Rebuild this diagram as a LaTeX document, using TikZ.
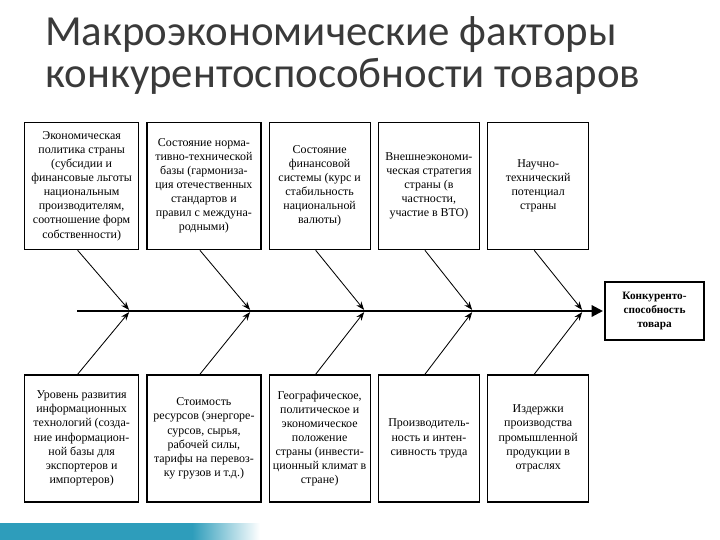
\documentclass[tikz,border=0pt]{standalone}
\usepackage{fontspec}
\setmainfont{Liberation Serif}
\newfontfamily\titlefont{Carlito}
\usetikzlibrary{arrows.meta,positioning,calc}
\definecolor{slideGrey}{HTML}{3A3A3A}
\definecolor{bandTeal}{HTML}{2E9DBB}

\begin{document}
\begin{tikzpicture}[
        node distance=3.1cm and 0.175cm,
        title/.style={anchor=north west, inner sep=0pt, align=left, text=slideGrey, font=\titlefont\fontsize{30.5}{30}\selectfont},
        factor/.style={draw=black, line width=0.9pt, minimum height=3.175cm, inner sep=1pt, align=center, font=\fontsize{8.5}{10}\selectfont},
        wide/.style={factor, minimum width=2.85cm},
        narrow/.style={factor, minimum width=2.525cm},
        goal/.style={draw=black, line width=0.9pt, minimum width=2.475cm, minimum height=1.45cm, align=center, font=\bfseries\fontsize{8}{10}\selectfont},
        arrow/.style={-{Stealth[length=6pt,width=4.5pt]}, line width=0.6pt, shorten >=1pt},
        spine/.style={-{Triangle[length=8pt,width=8pt]}, line width=1.6pt, shorten >=1pt}
    ]
        \useasboundingbox (0,0) rectangle (18,-13.5);

        \node[title] (title) at (1.125,-0.4) {Макроэкономические факторы\\конкурентоспособности товаров};

        % upper row
        \node[wide, anchor=north west] (t1) at (0.6,-3.05) {Экономическая\\политика страны\\(субсидии и\\финансовые льготы\\национальным\\производителям,\\соотношение форм\\собственности)};
        \node[wide, right=of t1] (t2) {Состояние норма-\\тивно-технической\\базы (гармониза-\\ция отечественных\\стандартов и\\правил с междуна-\\родными)};
        \node[narrow, right=of t2] (t3) {Состояние\\финансовой\\системы (курс и\\стабильность\\национальной\\валюты)};
        \node[narrow, right=of t3] (t4) {Внешнеэкономи-\\ческая стратегия\\страны (в\\частности,\\участие в ВТО)};
        \node[narrow, right=of t4] (t5) {Научно-\\технический\\потенциал\\страны};

        % lower row
        \node[wide, below=of t1] (b1) {Уровень развития\\информационных\\технологий (созда-\\ние информацион-\\ной базы для\\экспортеров и\\импортеров)};
        \node[wide, below=of t2] (b2) {Стоимость\\ресурсов (энергоре-\\сурсов, сырья,\\рабочей силы,\\тарифы на перевоз-\\ку грузов и т.д.)};
        \node[narrow, below=of t3] (b3) {Географическое,\\политическое и\\экономическое\\положение\\страны (инвести-\\ционный климат в\\стране)};
        \node[narrow, below=of t4] (b4) {Производитель-\\ность и интен-\\сивность труда};
        \node[narrow, below=of t5] (b5) {Издержки\\производства\\промышленной\\продукции в\\отраслях};

        \node[goal] (goal) at (16.3625,-7.775) {Конкуренто-\\способность\\товара};

        % spine and joints
        \coordinate (tail) at (1.925,-7.775);
        \coordinate (j1) at (3.25,-7.775);
        \coordinate (j2) at (6.275,-7.775);
        \coordinate (j3) at (9.125,-7.775);
        \coordinate (j4) at (11.825,-7.775);
        \coordinate (j5) at (14.575,-7.775);

        \draw[spine] (tail) -- (goal.west);

        \draw[arrow] ($(t1.south)+(-0.1,0)$) -- (j1);
        \draw[arrow] ($(t2.south)+(-0.1,0)$) -- (j2);
        \draw[arrow] ($(t3.south)+(-0.1,0)$) -- (j3);
        \draw[arrow] ($(t4.south)+(-0.1,0)$) -- (j4);
        \draw[arrow] ($(t5.south)+(-0.1,0)$) -- (j5);
        \draw[arrow] ($(b1.north)+(-0.1,0)$) -- (j1);
        \draw[arrow] ($(b2.north)+(-0.1,0)$) -- (j2);
        \draw[arrow] ($(b3.north)+(-0.1,0)$) -- (j3);
        \draw[arrow] ($(b4.north)+(-0.1,0)$) -- (j4);
        \draw[arrow] ($(b5.north)+(-0.1,0)$) -- (j5);

        % slide band
        \fill[bandTeal] (0,-13.075) rectangle (4.8,-13.5);
        \shade[left color=bandTeal, right color=white] (4.8,-13.075) rectangle (6.5,-13.5);
    \end{tikzpicture}
\end{document}
